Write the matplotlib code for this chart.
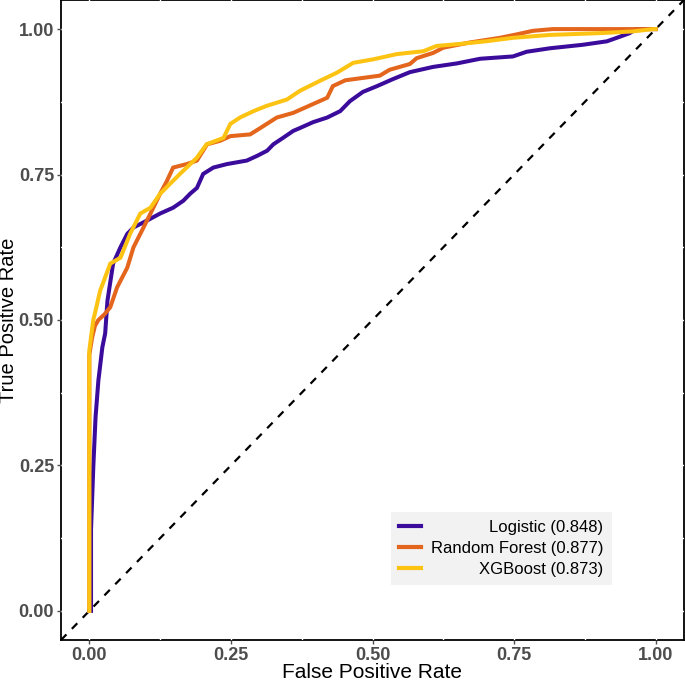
import matplotlib
matplotlib.use("Agg")
import matplotlib.pyplot as plt
import numpy as np

# ROC curves
log_fpr = [0, 0.003, 0.003, 0.007, 0.011, 0.016, 0.023, 0.028, 0.032, 0.042, 0.055, 0.067, 0.078,
           0.102, 0.125, 0.148, 0.166, 0.178, 0.19, 0.201, 0.219, 0.243, 0.278, 0.296, 0.314,
           0.325, 0.342, 0.36, 0.372, 0.395, 0.42, 0.443, 0.46, 0.483, 0.508, 0.536, 0.566,
           0.607, 0.649, 0.69, 0.748, 0.772, 0.813, 0.871, 0.914, 0.937, 0.954, 0.965, 1.0]
log_tpr = [0, 0.0, 0.14, 0.247, 0.333, 0.396, 0.453, 0.477, 0.533, 0.597, 0.625, 0.648, 0.659,
           0.671, 0.683, 0.693, 0.705, 0.717, 0.727, 0.751, 0.762, 0.768, 0.774, 0.782, 0.791,
           0.802, 0.813, 0.825, 0.830, 0.840, 0.848, 0.859, 0.876, 0.892, 0.902, 0.914, 0.926,
           0.935, 0.941, 0.949, 0.953, 0.961, 0.967, 0.973, 0.979, 0.987, 0.993, 1.0, 1.0]

rf_fpr = [0, 0, 0.005, 0.01, 0.016, 0.027, 0.037, 0.049, 0.067, 0.078, 0.09, 0.108, 0.125,
          0.137, 0.148, 0.172, 0.19, 0.208, 0.231, 0.249, 0.284, 0.302, 0.331, 0.36, 0.39,
          0.42, 0.43, 0.452, 0.513, 0.53, 0.566, 0.578, 0.607, 0.625, 0.672, 0.725, 0.755,
          0.783, 0.818, 1.0]
rf_tpr = [0, 0.44, 0.47, 0.49, 0.5, 0.51, 0.522, 0.556, 0.59, 0.625, 0.648, 0.683, 0.717,
          0.739, 0.762, 0.768, 0.774, 0.802, 0.808, 0.816, 0.819, 0.83, 0.848, 0.856, 0.869,
          0.882, 0.902, 0.912, 0.92, 0.93, 0.94, 0.95, 0.959, 0.968, 0.977, 0.985, 0.991,
          0.997, 1.0, 1.0]

xgb_fpr = [0, 0, 0.007, 0.012, 0.019, 0.037, 0.055, 0.072, 0.09, 0.108, 0.125, 0.16, 0.19,
           0.207, 0.237, 0.249, 0.266, 0.29, 0.313, 0.349, 0.372, 0.407, 0.437, 0.466, 0.501,
           0.543, 0.59, 0.613, 0.649, 0.70, 0.748, 0.813, 0.90, 0.96, 0.995, 1.0]
xgb_tpr = [0, 0.448, 0.5, 0.52, 0.55, 0.597, 0.607, 0.648, 0.683, 0.693, 0.717, 0.751, 0.779,
           0.802, 0.813, 0.837, 0.848, 0.859, 0.868, 0.879, 0.894, 0.911, 0.925, 0.942, 0.948,
           0.957, 0.962, 0.971, 0.974, 0.979, 0.985, 0.99, 0.993, 0.996, 1.0, 1.0]

labels = ["Logistic (0.848)", "Random Forest (0.877)", "XGBoost (0.873)"]
colors = ["#3B0C9C", "#E4651C", "#FDC313"]
ticks = [0, 0.25, 0.5, 0.75, 1.0]
tick_labels = ["0.00", "0.25", "0.50", "0.75", "1.00"]

plt.rcParams['font.family'] = ['Liberation Sans', 'DejaVu Sans']

fig = plt.figure(figsize=(6.85, 6.81), dpi=100)
ax = fig.add_axes([61 / 685, 1 - 640 / 681, 623 / 685, 640 / 681])

# diagonal reference
ax.plot([-0.05, 1.05], [-0.05, 1.05], color="black", lw=1.6, ls=(0, (3.5, 3.5)), zorder=2)

curves = [(log_fpr, log_tpr), (rf_fpr, rf_tpr), (xgb_fpr, xgb_tpr)]
for (fx, fy), lab, col in zip(curves, labels, colors):
    ax.plot(fx, fy, color=col, lw=2.9, label=lab, solid_joinstyle="miter", zorder=3)

ax.set_xlim(-0.05, 1.05)
ax.set_ylim(-0.05, 1.05)
ax.set_xticks(ticks)
ax.set_xticklabels(tick_labels)
ax.set_yticks(ticks)
ax.set_yticklabels(tick_labels)
ax.set_xticks(np.arange(0.125, 1.0, 0.25), minor=True)
ax.set_yticks(np.arange(0.125, 1.0, 0.25), minor=True)
ax.tick_params(axis="both", which="major", length=3, width=1, color="#4D4D4D",
               labelcolor="#4D4D4D", labelsize=13, pad=2)
ax.tick_params(axis="both", which="minor", length=0)
for t in ax.get_xticklabels() + ax.get_yticklabels():
    t.set_fontweight("bold")

# white grid lines that cut through the black border, like the ggplot theme
ax.set_axisbelow(True)
ax.grid(True, which="both", color="white", lw=1.0)
for s in ax.spines.values():
    s.set_color("black")
    s.set_linewidth(1.3)
    s.set_zorder(0.3)

ax.set_xlabel("False Positive Rate", fontsize=15)
ax.set_ylabel("True Positive Rate", fontsize=14.5)
ax.xaxis.set_label_coords(0.5, -0.036)
ax.yaxis.set_label_coords(-0.069, 0.5)

leg = ax.legend(loc="lower right", bbox_to_anchor=(0.884, 0.086), borderaxespad=0,
                frameon=True, fancybox=False, facecolor="#F2F2F2", edgecolor="none",
                framealpha=1, fontsize=12, handlelength=1.3, handletextpad=0.6,
                labelspacing=0.35, borderpad=0.5)
for ln in leg.get_lines():
    ln.set_linewidth(3)

# right-align the legend labels like the reference
fig.canvas.draw()
renderer = fig.canvas.get_renderer()
widths = [t.get_window_extent(renderer).width for t in leg.get_texts()]
for t, w in zip(leg.get_texts(), widths):
    t.set_position((max(widths) - w, 0))

fig.savefig("out.png", dpi=100)
